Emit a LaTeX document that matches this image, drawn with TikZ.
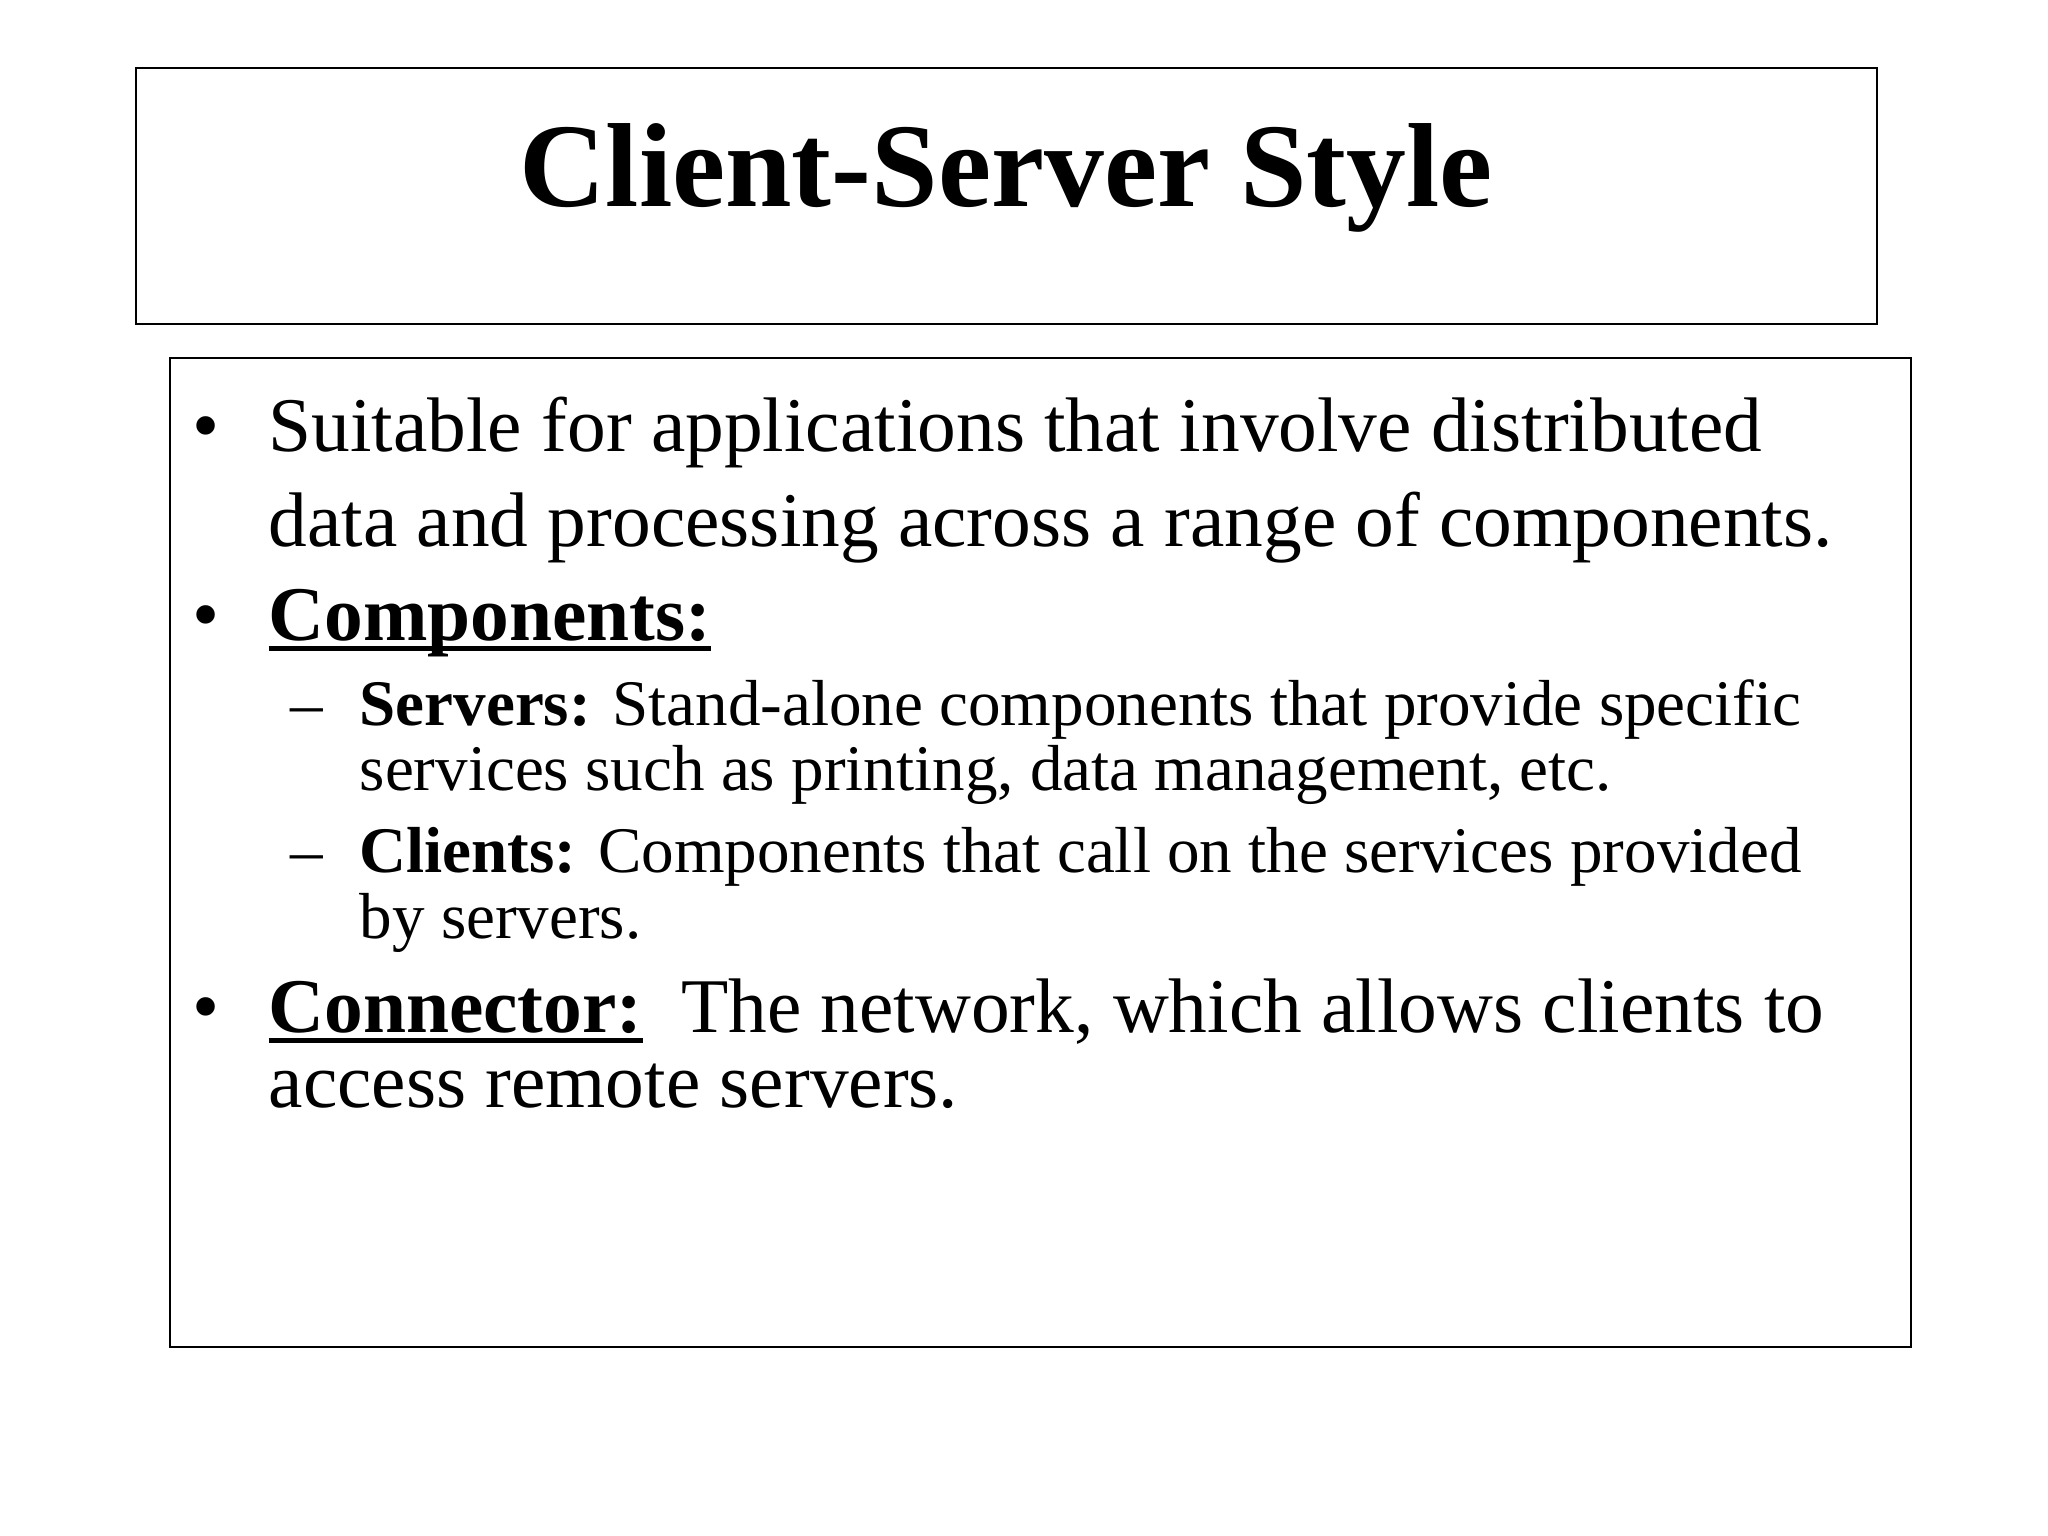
\documentclass[tikz,border=0pt]{standalone}
\usepackage{fontspec}
\setmainfont{Liberation Serif}
\newcommand{\myul}[1]{\setbox0\hbox{#1}\rlap{\rule[-3pt]{\wd0}{1.2pt}}\box0}
\begin{document}
\begin{tikzpicture}[x=0.01cm,y=-0.01cm,
  big/.style={anchor=base west,inner sep=0pt,font=\fontsize{22}{26}\selectfont},
  small/.style={anchor=base west,inner sep=0pt,font=\fontsize{18.5}{22}\selectfont},
  frame/.style={draw,line width=0.8pt}]
\useasboundingbox (0,0) rectangle (2048,1536);
\draw[frame] (136,68) rectangle (1877,324);
\draw[frame] (170,358) rectangle (1911,1347);
\node[anchor=base,inner sep=0pt,font=\fontsize{34}{40}\selectfont\bfseries] (title) at (1006,206) {Client-Server Style};
\node[big] (b1) at (192,451) {•};
\node[big] (l1) at (268,451) {Suitable for applications that involve distributed};
\node[big] (l2) at (268,546) {data and processing across a range of components.};
\node[big] (b2) at (192,640) {•};
\node[big] (l3) at (268,640) {\myul{\textbf{Components:}}};
\node[small] (d1) at (290,725) {–};
\node[small] (s1) at (359,725) {\textbf{Servers:} Stand-alone components that provide specific};
\node[small] (s2) at (359,790) {services such as printing, data management, etc.};
\node[small] (d2) at (290,872) {–};
\node[small] (s3) at (359,872) {\textbf{Clients:} Components that call on the services provided};
\node[small] (s4) at (359,938) {by servers.};
\node[big] (b3) at (192,1032) {•};
\node[big] (l4) at (268,1032) {\myul{\textbf{Connector:}}\ \ The network, which allows clients to};
\node[big] (l5) at (268,1107) {access remote servers.};
\end{tikzpicture}
\end{document}
